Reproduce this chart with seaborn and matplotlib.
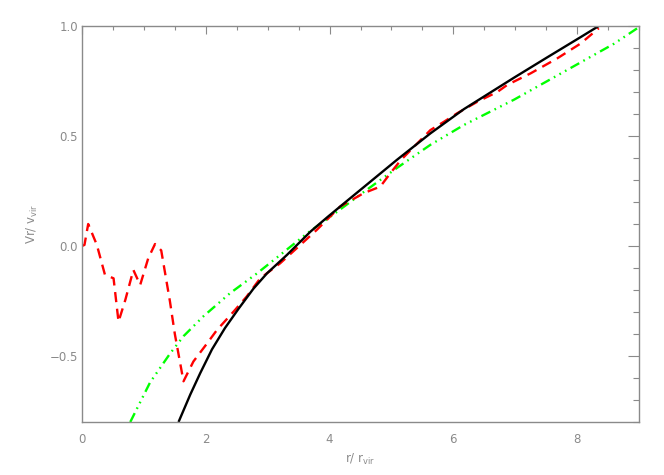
import matplotlib
matplotlib.use("Agg")
import matplotlib.pyplot as plt
import seaborn as sns
import pandas as pd
from matplotlib.ticker import MultipleLocator

# ---- data ----
black_x = [1.56, 1.75, 1.91, 2.10, 2.31, 2.53, 2.77, 2.99, 3.31, 3.69, 3.96, 4.26, 4.55, 5.09, 5.63, 6.17,
           6.98, 7.52, 8.06, 8.35]
black_y = [-0.80, -0.675, -0.578, -0.47, -0.373, -0.285, -0.194, -0.124, -0.041, 0.065, 0.13, 0.20, 0.267,
           0.392, 0.512, 0.622, 0.765, 0.858, 0.950, 1.00]

red_x = [0.0, 0.04, 0.10, 0.24, 0.37, 0.51, 0.59, 0.70, 0.83, 0.94, 1.07, 1.18, 1.28, 1.42, 1.50, 1.64, 1.80,
         2.02, 2.18, 2.45, 2.66, 2.88, 3.20, 3.47, 3.80, 4.17, 4.55, 4.82, 4.98, 5.15, 5.42, 5.63, 5.85, 6.06,
         6.39, 6.71, 6.87, 7.25, 7.68, 8.06, 8.35]
red_y = [0.0, 0.005, 0.10, 0.005, -0.13, -0.147, -0.344, -0.245, -0.109, -0.177, -0.056, 0.009, -0.02, -0.25,
         -0.40, -0.615, -0.525, -0.443, -0.382, -0.298, -0.23, -0.147, -0.079, -0.01, 0.075, 0.179, 0.24, 0.27,
         0.33, 0.39, 0.467, 0.527, 0.565, 0.603, 0.656, 0.70, 0.732, 0.785, 0.853, 0.921, 0.99]

green_x = [0.78, 1.10, 1.42, 1.64, 1.96, 2.39, 2.83, 3.20, 3.64, 4.07, 4.55, 5.09, 5.63, 6.17, 6.98, 7.52,
           8.06, 8.60, 9.0]
green_y = [-0.80, -0.62, -0.49, -0.41, -0.32, -0.215, -0.124, -0.041, 0.058, 0.145, 0.245, 0.355, 0.46, 0.55,
           0.665, 0.75, 0.835, 0.92, 0.995]

x_ticks = [0, 2, 4, 6, 8]
y_ticks = [-0.5, 0.0, 0.5, 1.0]
x_label = r"r/ r$_{\rm vir}$"
y_label = r"Vr/ v$_{\rm vir}$"

GRAY = "#8a8a8a"

sns.set_style("white")
plt.rcParams["font.family"] = ["DejaVu Sans"]
plt.rcParams["mathtext.default"] = "regular"

fig = plt.figure(figsize=(6.64, 4.75), dpi=100)
W, H = 664, 475
L, R, T, B = 82, 639, 26, 422
ax = fig.add_axes([L / W, 1 - B / H, (R - L) / W, (B - T) / H])

df_b = pd.DataFrame({"x": black_x, "y": black_y})
df_r = pd.DataFrame({"x": red_x, "y": red_y})
df_g = pd.DataFrame({"x": green_x, "y": green_y})

lw = 1.7
sns.lineplot(data=df_g, x="x", y="y", ax=ax, color="#00ff00", lw=lw, sort=False, estimator=None)
sns.lineplot(data=df_r, x="x", y="y", ax=ax, color="#ff0000", lw=lw, sort=False, estimator=None)
sns.lineplot(data=df_b, x="x", y="y", ax=ax, color="black", lw=lw, sort=False, estimator=None)
lines = ax.get_lines()
lines[0].set_dashes([4.2, 2.0, 0.7, 2.0, 0.7, 2.0, 0.7, 2.0])
lines[1].set_dashes([4.3, 2.8])
for ln in lines:
    ln.set_solid_capstyle("butt")
    ln.set_dash_capstyle("butt")
    ln.set_solid_joinstyle("round")

ax.set_xlim(0, 9)
ax.set_ylim(-0.8, 1.0)
ax.set_xticks(x_ticks)
ax.set_yticks(y_ticks)
ax.set_xticklabels([str(v) for v in x_ticks])
ax.set_yticklabels([f"{v:.1f}".replace("-", "\u2212") for v in y_ticks])
ax.xaxis.set_minor_locator(MultipleLocator(0.5))
ax.yaxis.set_minor_locator(MultipleLocator(0.1))

ax.tick_params(axis="both", which="both", direction="in", top=True, right=True,
               color=GRAY, labelcolor=GRAY, labelsize=8.5, width=0.8)
ax.tick_params(axis="x", which="major", length=5.8, pad=8)
ax.tick_params(axis="x", which="minor", length=2.9)
ax.tick_params(axis="y", which="major", length=8, pad=3)
ax.tick_params(axis="y", which="minor", length=4)

for s in ax.spines.values():
    s.set_color(GRAY)
    s.set_linewidth(1.0)

ax.set_xlabel(x_label, color=GRAY, fontsize=8.5, labelpad=4)
ax.set_ylabel(y_label, color=GRAY, fontsize=8.5, labelpad=7)

fig.savefig("out.png", dpi=100, facecolor="white")
